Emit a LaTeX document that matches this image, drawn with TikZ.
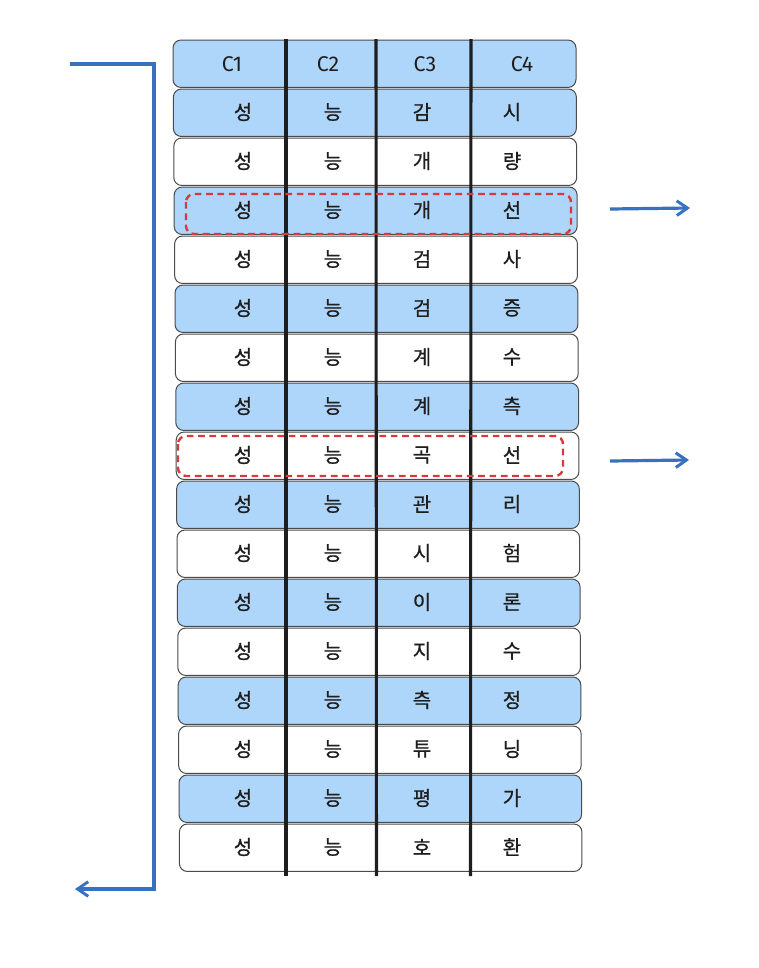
\documentclass[tikz,border=0pt]{standalone}
\usepackage{fontspec}
\newfontfamily\krfont[FakeBold=0.8]{Noto Sans CJK KR}
\newfontfamily\hdfont{Fira Sans}
\usetikzlibrary{arrows.meta}
\definecolor{rowblue}{HTML}{AED5FA}
\definecolor{rowwhite}{HTML}{FFFFFF}
\definecolor{inkline}{HTML}{1E1E1E}
\definecolor{arrowblue}{HTML}{3771C0}
\definecolor{markred}{HTML}{D63A3A}
\tikzset{
  rowbox/.style={draw=inkline!80, line width=0.75pt, rounded corners=6pt, inner sep=0pt, outer sep=0pt},
  sepline/.style={draw=inkline, line width=2.3pt},
  celltext/.style={font=\krfont\fontsize{15}{17}\selectfont, text=inkline, inner sep=0pt},
  headtext/.style={font=\hdfont\fontsize{16}{18}\selectfont, text=inkline, inner sep=0pt},
  bluearrow/.style={draw=arrowblue, line width=2.4pt, -{Straight Barb[length=8pt,width=11pt,line width=2.2pt]}},
  markbox/.style={draw=markred, line width=1.8pt, dash pattern=on 5pt off 3.5pt, rounded corners=6pt}
}
\begin{document}
\begin{tikzpicture}[x=0.75pt,y=-0.75pt]
\useasboundingbox (0,0) rectangle (758,968);
% rows
\foreach \i/\fc in {0/rowblue,1/rowblue,2/rowwhite,3/rowblue,4/rowwhite,5/rowblue,6/rowwhite,7/rowblue,8/rowwhite,9/rowblue,10/rowwhite,11/rowblue,12/rowwhite,13/rowblue,14/rowwhite,15/rowblue,16/rowwhite}{
  \pgfmathsetmacro\T{40+\i*49}
  \pgfmathsetmacro\L{173+\i*0.4}
  \pgfmathsetmacro\R{576+\i*0.37}
  \pgfmathsetmacro\W{(\R-\L)*0.75}
  \pgfmathsetmacro\CX{(\L+\R)/2}
  \pgfmathsetmacro\CY{\T+23.75}
  \node[rowbox, fill=\fc, minimum width=\W pt, minimum height=35.6pt] (r\i) at (\CX,\CY) {};
}
% column separators
\draw[sepline] (286,39) -- (286,876);
\draw[sepline] (376,39) -- (376.5,876);
\draw[sepline] (471,39) -- (470.5,876);
% header
\node[headtext] (h1) at (232,64) {C1};
\node[headtext] (h2) at (328,64) {C2};
\node[headtext] (h3) at (425,64) {C3};
\node[headtext] (h4) at (522,64) {C4};
% cells
\foreach \i/\a/\b/\c/\d in {1/성/능/감/시,2/성/능/개/량,3/성/능/개/선,4/성/능/검/사,5/성/능/검/증,6/성/능/계/수,7/성/능/계/측,8/성/능/곡/선,9/성/능/관/리,10/성/능/시/험,11/성/능/이/론,12/성/능/지/수,13/성/능/측/정,14/성/능/튜/닝,15/성/능/평/가,16/성/능/호/환}{
  \pgfmathsetmacro\CY{40+\i*49+23}
  \node[celltext] (c\i a) at (243,\CY) {\a};
  \node[celltext] (c\i b) at (333,\CY) {\b};
  \node[celltext] (c\i c) at (422,\CY) {\c};
  \node[celltext] (c\i d) at (512,\CY) {\d};
}
% highlighted rows
\draw[markbox] (186,194) rectangle (571,234);
\draw[markbox] (178,436) rectangle (563,476);
% bracket arrow
\coordinate (bs) at (70,64);
\coordinate (bc1) at (154,64);
\coordinate (bc2) at (154,889);
\coordinate (be) at (75,889);
\draw[bluearrow] (bs) -- (bc1) -- (bc2) -- (be);
% right arrows
\coordinate (a1s) at (610,209);
\coordinate (a1e) at (690,208);
\coordinate (a2s) at (610,461);
\coordinate (a2e) at (689,460);
\draw[bluearrow] (a1s) -- (a1e);
\draw[bluearrow] (a2s) -- (a2e);
\end{tikzpicture}
\end{document}
